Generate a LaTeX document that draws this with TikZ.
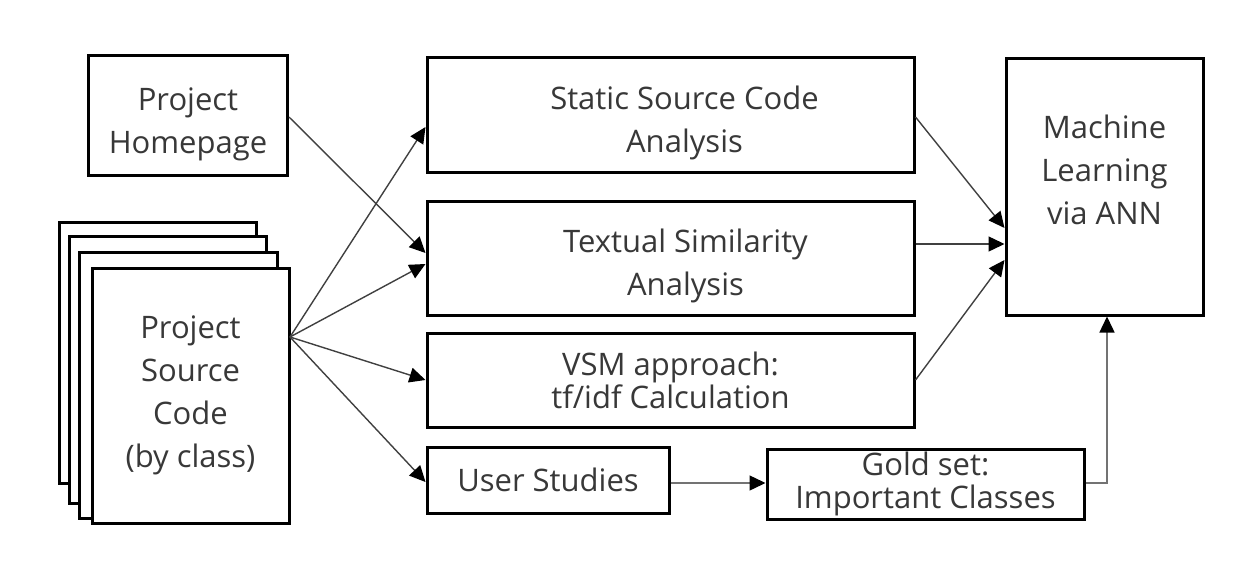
\documentclass[tikz,border=0pt]{standalone}
\usepackage{fontspec}
\setmainfont{Open Sans}
\usetikzlibrary{arrows.meta}
\begin{document}
\begin{tikzpicture}[x=1pt,y=-1pt,
  box/.style={draw=black,line width=3pt,fill=white,inner sep=0pt,align=center,
    text=black!78,font=\fontsize{31}{43}\selectfont},
  tight/.style={font=\fontsize{31}{33}\selectfont},
  lbl/.style={inner sep=0pt,align=center,text=black!78,font=\fontsize{31}{43}\selectfont},
  page/.style={draw=black,line width=3pt,fill=white},
  tip/.style={-{Triangle[length=16pt,width=15pt,color=black]}},
  conn/.style={line width=1.4pt,draw=black!75,tip},
  gconn/.style={line width=1.4pt,draw=black!55,tip}]
\useasboundingbox (0,0) rectangle (1252,586);
% stacked pages
\draw[page] (59,222) rectangle (256,483);
\draw[page] (69,236) rectangle (266,503);
\draw[page] (79,252) rectangle (277,518);
\node[box,minimum width=197pt,minimum height=255pt] (src) at (190.5,395.5) {Project\\Source\\Code\\(by class)};
% boxes
\node[box,minimum width=199pt,minimum height=119pt] (home) at (188,115.5) {\rule{0pt}{40pt}Project\\Homepage};
\node[box,minimum width=487pt,minimum height=114pt] (static) at (670.5,115) {\rule{0pt}{40pt}\hspace*{28pt}Static Source Code\\\hspace*{28pt}Analysis};
\node[box,minimum width=487pt,minimum height=114pt] (text) at (670.5,258) {\rule{0pt}{40pt}\hspace*{30pt}Textual Similarity\\\hspace*{30pt}Analysis};
\node[box,tight,minimum width=487pt,minimum height=94pt] (vsm) at (670.5,380) {VSM approach:\\tf/idf Calculation};
\node[box,minimum width=242pt,minimum height=66pt] (user) at (548,480) {User Studies};
\node[box,tight,minimum width=317pt,minimum height=70pt] (gold) at (925.5,484) {Gold set:\\Important Classes};
\node[box,minimum width=197pt,minimum height=256pt] (ml) at (1104.5,187) {};
\node[lbl] (mltext) at (1104.5,170) {Machine\\Learning\\via ANN};
% connectors
\coordinate (o) at (290,337);
\draw[conn] (home.east |- 0,117) -- (static.west |- 0,253);
\draw[conn] (o) -- (static.west |- 0,127);
\draw[conn] (o) -- (text.west |- 0,264);
\draw[conn] (o) -- (vsm.west |- 0,380);
\draw[conn] (o) -- (user.west |- 0,482);
\draw[conn] (static.east |- 0,117) -- (ml.west |- 0,228);
\draw[conn] (text.east |- 0,244) -- (ml.west |- 0,244);
\draw[conn] (vsm.east |- 0,380) -- (ml.west |- 0,260);
\draw[gconn] (user.east |- 0,483) -- (gold.west |- 0,483);
\draw[gconn] (gold.east |- 0,483) -- (1107,483) -- (ml.south -| 1107,0);
\end{tikzpicture}
\end{document}
